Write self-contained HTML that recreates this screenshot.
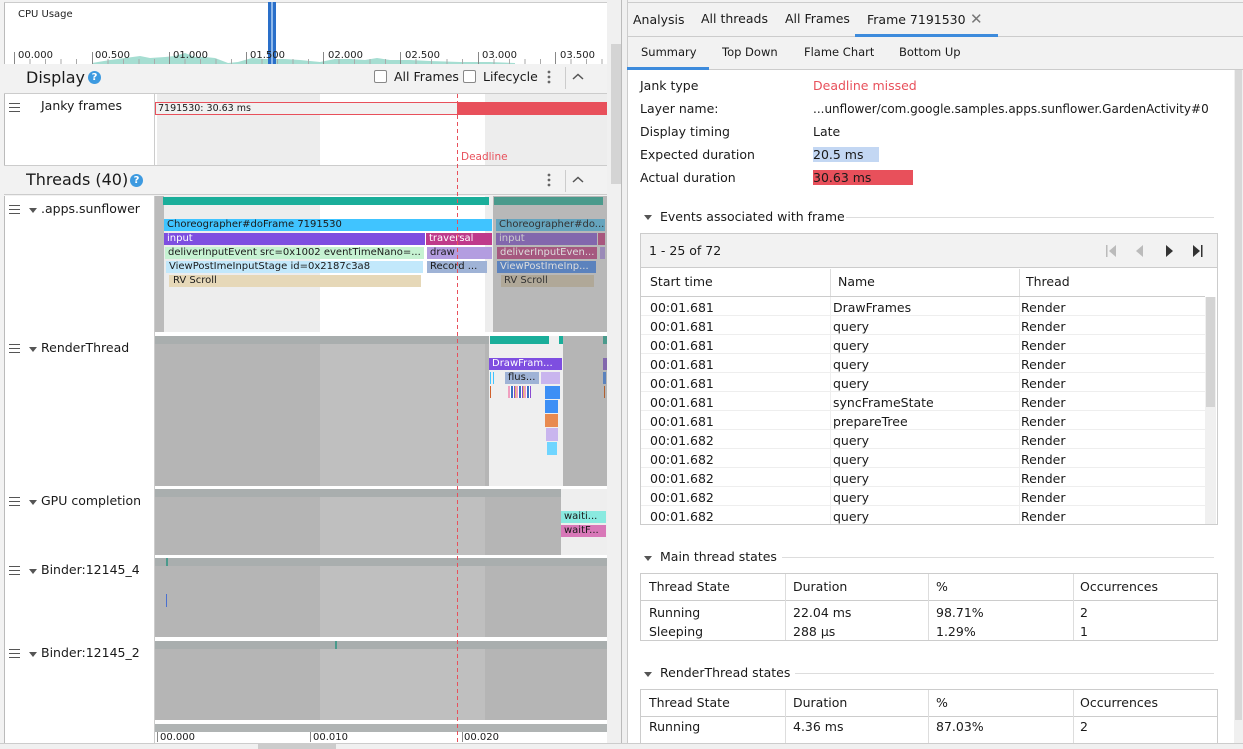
<!DOCTYPE html>
<html><head><meta charset="utf-8">
<style>
*{margin:0;padding:0;box-sizing:border-box}
body{width:1243px;height:749px;overflow:hidden;background:#f2f2f2;font-family:"DejaVu Sans","Liberation Sans",sans-serif;font-size:12px;color:#1a1a1a;position:relative}
.a{position:absolute;white-space:nowrap;overflow:hidden}
.s{position:absolute;white-space:nowrap;overflow:hidden;height:12px;line-height:12px;font-size:10px;padding-left:3px}
.t{position:absolute;white-space:nowrap;font-size:12.5px;line-height:16px}
.ham{position:absolute;width:11px;height:9px;border-top:1px solid #555;border-bottom:1px solid #555}
.ham:after{content:"";position:absolute;left:0;right:0;top:3px;height:1px;background:#555}
.tri{position:absolute;width:0;height:0;border-left:4px solid transparent;border-right:4px solid transparent;border-top:5px solid #555}
.q{position:absolute;width:13px;height:13px;border-radius:50%;background:#3d9ae0;color:#fff;font-size:10px;font-weight:bold;text-align:center;line-height:13px}
.cb{position:absolute;width:13px;height:13px;border:1px solid #888;background:#fff;border-radius:2px}
.tick{position:absolute;width:1px;background:#888}
</style></head><body>

<!-- LEFT PANEL -->
<div class="a" style="left:4px;top:2px;width:604px;height:62px;background:#fff;border-left:1px solid #bbb;border-top:1px solid #ccc"></div>
<svg class="a" style="left:0;top:0" width="610" height="64">
<polygon fill="#a6ded2" points="92,63 110,60 125,58 140,56 150,58 165,57 175,56 185,53 195,57 205,57 215,58 228,63 238,62 252,58 265,59 285,59 300,60 320,62 335,59 350,59 365,60 377,58 390,60 410,60 430,61 460,62 490,62 515,63 515,64 92,64"/>
<rect x="268" y="2" width="3" height="62" fill="#2a6fc9"/><rect x="273" y="2" width="3" height="62" fill="#2a6fc9"/><rect x="271" y="2" width="2" height="62" fill="#8fb8ea"/>
<g stroke="#888">
<line x1="14.5" y1="52" x2="14.5" y2="64"/><line x1="92.5" y1="52" x2="92.5" y2="64"/><line x1="169.5" y1="52" x2="169.5" y2="64"/><line x1="246.5" y1="52" x2="246.5" y2="64"/><line x1="323.5" y1="52" x2="323.5" y2="64"/><line x1="400.5" y1="52" x2="400.5" y2="64"/><line x1="478.5" y1="52" x2="478.5" y2="64"/><line x1="555.5" y1="52" x2="555.5" y2="64"/>
</g>
<g stroke="#aaa">
<line x1="30" y1="59" x2="30" y2="64"/><line x1="45.5" y1="59" x2="45.5" y2="64"/><line x1="61" y1="59" x2="61" y2="64"/><line x1="76.5" y1="59" x2="76.5" y2="64"/>
<line x1="108" y1="59" x2="108" y2="64"/><line x1="123.5" y1="59" x2="123.5" y2="64"/><line x1="139" y1="59" x2="139" y2="64"/><line x1="154.5" y1="59" x2="154.5" y2="64"/>
<line x1="185" y1="59" x2="185" y2="64"/><line x1="200.5" y1="59" x2="200.5" y2="64"/><line x1="216" y1="59" x2="216" y2="64"/><line x1="231.5" y1="59" x2="231.5" y2="64"/>
<line x1="262" y1="59" x2="262" y2="64"/><line x1="277.5" y1="59" x2="277.5" y2="64"/><line x1="293" y1="59" x2="293" y2="64"/><line x1="308.5" y1="59" x2="308.5" y2="64"/>
<line x1="339" y1="59" x2="339" y2="64"/><line x1="354.5" y1="59" x2="354.5" y2="64"/><line x1="370" y1="59" x2="370" y2="64"/><line x1="385.5" y1="59" x2="385.5" y2="64"/>
<line x1="416" y1="59" x2="416" y2="64"/><line x1="431.5" y1="59" x2="431.5" y2="64"/><line x1="447" y1="59" x2="447" y2="64"/><line x1="462.5" y1="59" x2="462.5" y2="64"/>
<line x1="494" y1="59" x2="494" y2="64"/><line x1="509.5" y1="59" x2="509.5" y2="64"/><line x1="525" y1="59" x2="525" y2="64"/><line x1="540.5" y1="59" x2="540.5" y2="64"/>
<line x1="571" y1="59" x2="571" y2="64"/><line x1="586.5" y1="59" x2="586.5" y2="64"/><line x1="602" y1="59" x2="602" y2="64"/>
</g>
<g font-family="DejaVu Sans,sans-serif" font-size="10" fill="#222">
<text x="18" y="58">00.000</text><text x="95" y="58">00.500</text><text x="173" y="58">01.000</text><text x="250" y="58">01.500</text><text x="328" y="58">02.000</text><text x="405" y="58">02.500</text><text x="482" y="58">03.000</text><text x="560" y="58">03.500</text>
</g>
<text x="18" y="17" font-family="DejaVu Sans,sans-serif" font-size="10" fill="#222">CPU Usage</text>
</svg>

<!-- Display header -->
<div class="a" style="left:4px;top:64px;width:604px;height:30px;background:#f2f2f2;border-bottom:1px solid #ccc"></div>
<div class="a" style="left:26px;top:67px;font-size:16px;line-height:22px">Display</div>
<div class="q" style="left:88px;top:71px">?</div>
<div class="cb" style="left:374px;top:70px"></div>
<div class="a" style="left:394px;top:69px;font-size:12.5px;line-height:16px">All Frames</div>
<div class="cb" style="left:463px;top:70px"></div>
<div class="a" style="left:483px;top:69px;font-size:12.5px;line-height:16px">Lifecycle</div>
<svg class="a" style="left:546px;top:69px" width="6" height="16"><circle cx="3" cy="3" r="1.4" fill="#666"/><circle cx="3" cy="8" r="1.4" fill="#666"/><circle cx="3" cy="13" r="1.4" fill="#666"/></svg>
<div class="a" style="left:565px;top:67px;width:1px;height:22px;background:#ccc"></div>
<svg class="a" style="left:572px;top:73px" width="12" height="8"><polyline points="1,6 6,1.5 11,6" fill="none" stroke="#555" stroke-width="1.5"/></svg>

<!-- Janky frames row -->
<div class="a" style="left:4px;top:94px;width:151px;height:71px;background:#fff;border-left:1px solid #bbb;border-right:1px solid #ccc"></div>
<div class="ham" style="left:9px;top:103px"></div>
<div class="t" style="left:41px;top:98px">Janky frames</div>
<div class="a" style="left:155px;top:94px;width:452px;height:71px;background:#fff"></div>
<div class="a" style="left:157px;top:94px;width:163px;height:71px;background:#ededed"></div>
<div class="a" style="left:485px;top:94px;width:122px;height:71px;background:#ededed"></div>
<div class="a" style="left:155px;top:102px;width:303px;height:13px;border:1px solid #e8505b;background:#f1f1f1;font-size:9.5px;line-height:11px;padding-left:2px">7191530: 30.63 ms</div>
<div class="a" style="left:457px;top:102px;width:150px;height:13px;background:#e8505b"></div>
<div class="a" style="left:461px;top:151px;font-size:10.5px;color:#e8505b">Deadline</div>
<div class="a" style="left:4px;top:165px;width:604px;height:1px;background:#ccc"></div>

<!-- Threads header -->
<div class="a" style="left:4px;top:166px;width:604px;height:29px;background:#f2f2f2;border-bottom:1px solid #ccc"></div>
<div class="a" style="left:26px;top:169px;font-size:16px;line-height:22px">Threads (40)</div>
<div class="q" style="left:130px;top:174px">?</div>
<svg class="a" style="left:546px;top:172px" width="6" height="16"><circle cx="3" cy="3" r="1.4" fill="#666"/><circle cx="3" cy="8" r="1.4" fill="#666"/><circle cx="3" cy="13" r="1.4" fill="#666"/></svg>
<div class="a" style="left:565px;top:170px;width:1px;height:22px;background:#ccc"></div>
<svg class="a" style="left:572px;top:176px" width="12" height="8"><polyline points="1,6 6,1.5 11,6" fill="none" stroke="#555" stroke-width="1.5"/></svg>

<!-- thread label column -->
<div class="a" style="left:4px;top:196px;width:151px;height:547px;background:#fff;border-left:1px solid #bbb;border-right:1px solid #ccc"></div>
<div class="ham" style="left:9px;top:205px"></div><div class="tri" style="left:29px;top:208px"></div><div class="t" style="left:41px;top:201px">.apps.sunflower</div>
<div class="ham" style="left:9px;top:344px"></div><div class="tri" style="left:29px;top:347px"></div><div class="t" style="left:41px;top:340px">RenderThread</div>
<div class="ham" style="left:9px;top:497px"></div><div class="tri" style="left:29px;top:500px"></div><div class="t" style="left:41px;top:493px">GPU completion</div>
<div class="ham" style="left:9px;top:566px"></div><div class="tri" style="left:29px;top:569px"></div><div class="t" style="left:41px;top:562px">Binder:12145_4</div>
<div class="ham" style="left:9px;top:649px"></div><div class="tri" style="left:29px;top:652px"></div><div class="t" style="left:41px;top:645px">Binder:12145_2</div>

<!-- tracks bg -->
<div class="a" style="left:155px;top:196px;width:452px;height:547px;background:#fff"></div>

<!-- sunflower -->
<div class="a" style="left:155px;top:196px;width:9px;height:136px;background:#bbb"></div>
<div class="a" style="left:164px;top:196px;width:156px;height:136px;background:#ededed"></div>
<div class="a" style="left:485px;top:196px;width:9px;height:136px;background:#ededed"></div>
<div class="a" style="left:493px;top:196px;width:114px;height:136px;background:#b8b8b8"></div>
<div class="a" style="left:163px;top:197px;width:326px;height:8px;background:#1aae9a"></div>
<div class="a" style="left:494px;top:197px;width:109px;height:8px;background:#4a9a8c"></div>
<div class="s" style="left:164px;top:219px;width:328px;background:#40c4ff">Choreographer#doFrame 7191530</div>
<div class="s" style="left:164px;top:233px;width:261px;background:#7e4ee0;color:#fff">input</div>
<div class="s" style="left:426px;top:233px;width:66px;background:#bf3a8b;color:#fff">traversal</div>
<div class="s" style="left:165px;top:247px;width:259px;background:#c6f2d2">deliverInputEvent src=0x1002 eventTimeNano=...</div>
<div class="s" style="left:427px;top:247px;width:65px;background:#b39de0">draw</div>
<div class="s" style="left:166px;top:261px;width:257px;background:#c2e8fb">ViewPostImeInputStage id=0x2187c3a8</div>
<div class="s" style="left:427px;top:261px;width:60px;background:#9fb3d6">Record ...</div>
<div class="s" style="left:169px;top:275px;width:252px;background:#e6d8b8;padding-left:4px">RV Scroll</div>
<div class="s" style="left:496px;top:219px;width:109px;background:#65a4bd;color:#333">Choreographer#do...</div>
<div class="s" style="left:496px;top:233px;width:101px;background:#8267ad;color:#ccc">input</div>
<div class="a" style="left:598px;top:233px;width:7px;height:12px;background:#a8577e"></div>
<div class="s" style="left:497px;top:247px;width:100px;background:#a5587f;color:#ddd">deliverInputEven...</div>
<div class="a" style="left:600px;top:247px;width:5px;height:12px;background:#9a8ab8"></div>
<div class="s" style="left:497px;top:261px;width:99px;background:#5b82bd;color:#ddd">ViewPostImeInp...</div>
<div class="s" style="left:501px;top:275px;width:93px;background:#b0a898;color:#333">RV Scroll</div>

<!-- RenderThread -->
<div class="a" style="left:155px;top:336px;width:334px;height:150px;background:#b5b5b5"></div>
<div class="a" style="left:320px;top:344px;width:165px;height:142px;background:#bfbfbf"></div>
<div class="a" style="left:155px;top:336px;width:334px;height:8px;background:#a9aeae"></div>
<div class="a" style="left:489px;top:336px;width:74px;height:150px;background:#efefef"></div>
<div class="a" style="left:490px;top:336px;width:59px;height:8px;background:#1aae9a"></div>
<div class="a" style="left:559px;top:336px;width:4px;height:8px;background:#1aae9a"></div>
<div class="a" style="left:563px;top:336px;width:44px;height:150px;background:#b5b5b5"></div>
<div class="a" style="left:603px;top:336px;width:4px;height:8px;background:#4a9a8c"></div>
<div class="s" style="left:489px;top:358px;width:73px;background:#7e4ee0;color:#fff">DrawFram...</div>
<div class="a" style="left:490px;top:372px;width:1px;height:12px;background:#40c4ff"></div>
<div class="a" style="left:493px;top:372px;width:1px;height:12px;background:#40c4ff"></div>
<div class="s" style="left:505px;top:372px;width:34px;background:#9fb3d6">flus...</div>
<div class="a" style="left:541px;top:372px;width:19px;height:12px;background:#c9b5ee"></div>
<div class="a" style="left:490px;top:386px;width:1px;height:12px;background:#d0602c"></div>
<div class="a" style="left:508px;top:386px;width:23px;height:12px;background:repeating-linear-gradient(90deg,#f0a0c0 0 2px,#fff 2px 3px,#3b6fc0 3px 5px,#fff 5px 6px,#8a4ad0 6px 7px,#e0c060 7px 8px)"></div>
<div class="a" style="left:545px;top:386px;width:15px;height:13px;background:#3d8ff5"></div>
<div class="a" style="left:545px;top:400px;width:13px;height:13px;background:#3d8ff5"></div>
<div class="a" style="left:545px;top:414px;width:13px;height:13px;background:#e88a50"></div>
<div class="a" style="left:546px;top:428px;width:12px;height:13px;background:#c9b5ee"></div>
<div class="a" style="left:547px;top:442px;width:10px;height:13px;background:#6fd5ff"></div>
<div class="a" style="left:603px;top:358px;width:4px;height:12px;background:#8267ad"></div>
<div class="a" style="left:603px;top:372px;width:3px;height:12px;background:#5b82bd"></div>
<div class="a" style="left:604px;top:386px;width:1px;height:12px;background:#b06030"></div>

<!-- GPU completion -->
<div class="a" style="left:155px;top:489px;width:406px;height:66px;background:#b5b5b5"></div>
<div class="a" style="left:320px;top:497px;width:165px;height:58px;background:#bfbfbf"></div>
<div class="a" style="left:155px;top:489px;width:406px;height:8px;background:#a9aeae"></div>
<div class="a" style="left:561px;top:489px;width:46px;height:66px;background:#eeeeee"></div>
<div class="s" style="left:561px;top:511px;width:45px;background:#8aeae0">waiti...</div>
<div class="s" style="left:561px;top:525px;width:45px;background:#d878b8">waitF...</div>

<!-- Binder 4 -->
<div class="a" style="left:155px;top:558px;width:452px;height:79px;background:#b5b5b5"></div>
<div class="a" style="left:320px;top:566px;width:165px;height:71px;background:#bfbfbf"></div>
<div class="a" style="left:155px;top:558px;width:452px;height:8px;background:#a9aeae"></div>
<div class="a" style="left:166px;top:558px;width:2px;height:8px;background:#4a9a8c"></div>
<div class="a" style="left:166px;top:594px;width:1px;height:13px;background:#4a70d0"></div>
<!-- Binder 2 -->
<div class="a" style="left:155px;top:641px;width:452px;height:79px;background:#b5b5b5"></div>
<div class="a" style="left:320px;top:649px;width:165px;height:71px;background:#bfbfbf"></div>
<div class="a" style="left:155px;top:641px;width:452px;height:8px;background:#a9aeae"></div>
<div class="a" style="left:335px;top:641px;width:2px;height:8px;background:#4a9a8c"></div>
<div class="a" style="left:155px;top:724px;width:452px;height:8px;background:#b0b4b4"></div>
<div class="a" style="left:155px;top:732px;width:452px;height:11px;background:#fff"></div>
<div class="tick" style="left:157px;top:732px;height:10px"></div><div class="tick" style="left:310px;top:732px;height:10px"></div><div class="tick" style="left:462px;top:732px;height:10px"></div><div class="tick" style="left:613px;top:732px;height:10px"></div>
<div class="a" style="left:160px;top:732px;font-size:10px">00.000</div>
<div class="a" style="left:313px;top:732px;font-size:10px">00.010</div>
<div class="a" style="left:464px;top:732px;font-size:10px">00.020</div>

<!-- deadline line -->
<div class="a" style="left:457px;top:94px;width:1px;height:650px;background:repeating-linear-gradient(180deg,#e8505b 0 4px,transparent 4px 7px)"></div>

<!-- left scrollbar & divider -->
<div class="a" style="left:607px;top:0;width:20px;height:743px;background:#f0f0f0"></div>
<div class="a" style="left:611px;top:44px;width:10px;height:140px;background:#d4d4d4"></div>
<div class="a" style="left:621px;top:0;width:1px;height:743px;background:#bbb"></div>
<div class="a" style="left:627px;top:0;width:1px;height:743px;background:#ccc"></div>
<div class="a" style="left:0;top:743px;width:1243px;height:6px;background:#f0f0f0;border-top:1px solid #ccc"></div>
<div class="a" style="left:258px;top:744px;width:78px;height:5px;background:#ccc"></div>

<!-- RIGHT PANEL -->
<div class="a" style="left:628px;top:2px;width:615px;height:35px;background:#f2f2f2;border-top:1px solid #ccc;border-bottom:1px solid #ccc"></div>
<div class="t" style="left:633px;top:12px">Analysis</div>
<div class="t" style="left:701px;top:11px">All threads</div>
<div class="t" style="left:785px;top:11px">All Frames</div>
<div class="t" style="left:867px;top:12px">Frame 7191530</div>
<div class="t" style="left:970px;top:11px;font-size:15px;color:#777">✕</div>
<div class="a" style="left:855px;top:34px;width:143px;height:3px;background:#3d8bdc"></div>
<div class="a" style="left:628px;top:37px;width:615px;height:33px;background:#f2f2f2;border-bottom:1px solid #ccc"></div>
<div class="a" style="left:641px;top:45px;font-size:11.5px">Summary</div>
<div class="a" style="left:722px;top:45px;font-size:11.5px">Top Down</div>
<div class="a" style="left:804px;top:45px;font-size:11.5px">Flame Chart</div>
<div class="a" style="left:899px;top:45px;font-size:11.5px">Bottom Up</div>
<div class="a" style="left:627px;top:67px;width:82px;height:3px;background:#3d8bdc"></div>
<div class="a" style="left:628px;top:70px;width:606px;height:673px;background:#fff"></div>
<div class="a" style="left:1234px;top:70px;width:9px;height:673px;background:#f0f0f0"></div>
<div class="a" style="left:1235px;top:70px;width:7px;height:650px;background:#d8d8d8"></div>

<div class="t" style="left:640px;top:78px">Jank type</div><div class="t" style="left:813px;top:78px;color:#e8505b">Deadline missed</div>
<div class="t" style="left:640px;top:101px">Layer name:</div><div class="t" style="left:813px;top:101px;font-size:12px">...unflower/com.google.samples.apps.sunflower.GardenActivity#0</div>
<div class="t" style="left:640px;top:124px">Display timing</div><div class="t" style="left:813px;top:124px">Late</div>
<div class="t" style="left:640px;top:147px">Expected duration</div><div class="a" style="left:813px;top:147px;width:66px;height:15px;background:#c3d7f3"></div><div class="t" style="left:813px;top:147px">20.5 ms</div>
<div class="t" style="left:640px;top:170px">Actual duration</div><div class="a" style="left:813px;top:170px;width:100px;height:15px;background:#e8505b"></div><div class="t" style="left:813px;top:170px">30.63 ms</div>

<div class="tri" style="left:644px;top:215px"></div>
<div class="t" style="left:660px;top:209px">Events associated with frame</div>
<div class="a" style="left:846px;top:217px;width:368px;height:1px;background:#ddd"></div>
<div class="a" style="left:640px;top:233px;width:578px;height:292px;border:1px solid #ccc;background:#fff"></div>
<div class="a" style="left:641px;top:234px;width:576px;height:34px;background:#f2f2f2;border-bottom:1px solid #ccc"></div>
<div class="t" style="left:649px;top:243px">1 - 25 of 72</div>
<svg class="a" style="left:1104px;top:244px" width="105" height="14">
<rect x="2" y="1" width="1.5" height="12" fill="#bbb"/><polygon points="12,1 12,13 5,7" fill="#bbb"/>
<polygon points="39,1 39,13 32,7" fill="#bbb"/>
<polygon points="62,1 62,13 69,7" fill="#333"/>
<polygon points="89,1 89,13 96,7" fill="#333"/><rect x="97" y="1" width="1.5" height="12" fill="#333"/>
</svg>
<div class="a" style="left:1205px;top:297px;width:11px;height:227px;background:#f0f0f0"></div>
<div class="a" style="left:1206px;top:297px;width:9px;height:110px;background:#d4d4d4"></div>
<div class="a" style="left:641px;top:296px;width:564px;height:1px;background:#ccc"></div>
<div class="a" style="left:830px;top:269px;width:1px;height:27px;background:#ddd"></div>
<div class="a" style="left:1019px;top:269px;width:1px;height:27px;background:#ddd"></div>
<div class="t" style="left:650px;top:274px">Start time</div><div class="t" style="left:838px;top:274px">Name</div><div class="t" style="left:1026px;top:274px">Thread</div>
<div class="a" style="left:641px;top:297px;width:564px;height:227px;background:repeating-linear-gradient(180deg,#fff 0 18px,#eee 18px 19px)"></div>
<div class="a" style="left:830px;top:297px;width:1px;height:227px;background:#eee"></div>
<div class="a" style="left:1019px;top:297px;width:1px;height:227px;background:#eee"></div>
<div class="t" style="left:650px;top:298px;line-height:19px">00:01.681<br>00:01.681<br>00:01.681<br>00:01.681<br>00:01.681<br>00:01.681<br>00:01.681<br>00:01.682<br>00:01.682<br>00:01.682<br>00:01.682<br>00:01.682</div>
<div class="t" style="left:833px;top:298px;line-height:19px">DrawFrames<br>query<br>query<br>query<br>query<br>syncFrameState<br>prepareTree<br>query<br>query<br>query<br>query<br>query</div>
<div class="t" style="left:1021px;top:298px;line-height:19px">Render<br>Render<br>Render<br>Render<br>Render<br>Render<br>Render<br>Render<br>Render<br>Render<br>Render<br>Render</div>

<div class="tri" style="left:644px;top:556px"></div>
<div class="t" style="left:660px;top:549px">Main thread states</div>
<div class="a" style="left:782px;top:557px;width:432px;height:1px;background:#ddd"></div>
<div class="a" style="left:640px;top:573px;width:578px;height:68px;border:1px solid #ccc;background:#fff"></div>
<div class="a" style="left:641px;top:600px;width:576px;height:1px;background:#ccc"></div>
<div class="a" style="left:785px;top:574px;width:1px;height:66px;background:#ddd"></div>
<div class="a" style="left:928px;top:574px;width:1px;height:66px;background:#ddd"></div>
<div class="a" style="left:1073px;top:574px;width:1px;height:66px;background:#ddd"></div>
<div class="t" style="left:649px;top:579px">Thread State</div><div class="t" style="left:793px;top:579px">Duration</div><div class="t" style="left:936px;top:579px">%</div><div class="t" style="left:1080px;top:579px">Occurrences</div>
<div class="t" style="left:649px;top:603px;line-height:19px">Running<br>Sleeping</div>
<div class="t" style="left:793px;top:603px;line-height:19px">22.04 ms<br>288 µs</div>
<div class="t" style="left:936px;top:603px;line-height:19px">98.71%<br>1.29%</div>
<div class="t" style="left:1080px;top:603px;line-height:19px">2<br>1</div>

<div class="tri" style="left:644px;top:672px"></div>
<div class="t" style="left:660px;top:665px">RenderThread states</div>
<div class="a" style="left:795px;top:673px;width:419px;height:1px;background:#ddd"></div>
<div class="a" style="left:640px;top:689px;width:578px;height:60px;border:1px solid #ccc;border-bottom:none;background:#fff"></div>
<div class="a" style="left:641px;top:716px;width:576px;height:1px;background:#ccc"></div>
<div class="a" style="left:785px;top:690px;width:1px;height:53px;background:#ddd"></div>
<div class="a" style="left:928px;top:690px;width:1px;height:53px;background:#ddd"></div>
<div class="a" style="left:1073px;top:690px;width:1px;height:53px;background:#ddd"></div>
<div class="t" style="left:649px;top:695px">Thread State</div><div class="t" style="left:793px;top:695px">Duration</div><div class="t" style="left:936px;top:695px">%</div><div class="t" style="left:1080px;top:695px">Occurrences</div>
<div class="t" style="left:649px;top:719px">Running</div><div class="t" style="left:793px;top:719px">4.36 ms</div><div class="t" style="left:936px;top:719px">87.03%</div><div class="t" style="left:1080px;top:719px">2</div>
<div class="a" style="left:628px;top:743px;width:615px;height:6px;background:#f0f0f0;border-top:1px solid #ccc"></div>
</body></html>
